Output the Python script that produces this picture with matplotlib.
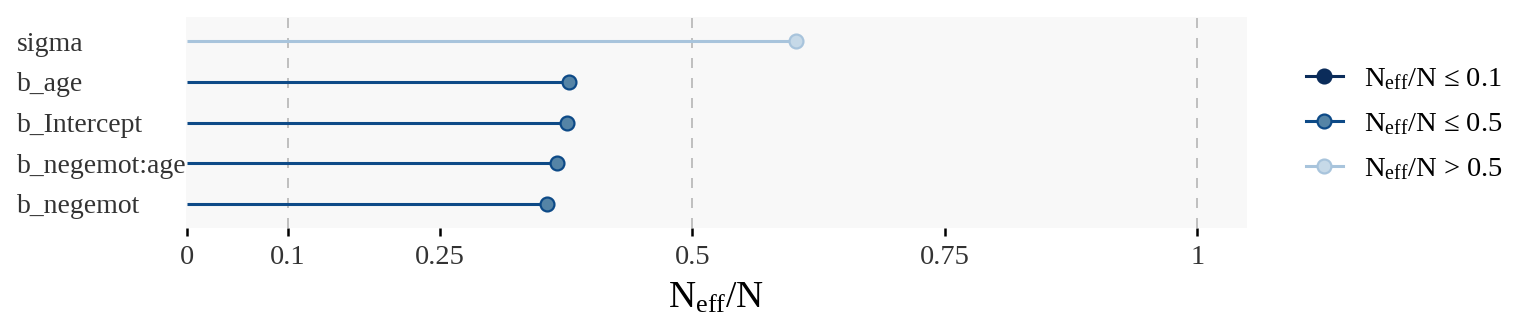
import matplotlib
matplotlib.use("Agg")
import matplotlib.pyplot as plt
from matplotlib.lines import Line2D

plt.rcParams['font.family'] = ['Liberation Serif', 'DejaVu Serif']
plt.rcParams['mathtext.fontset'] = 'custom'
plt.rcParams['mathtext.rm'] = 'Liberation Serif'
plt.rcParams['mathtext.it'] = 'Liberation Serif:italic'

# Data (bottom to top)
params = ["b_negemot", "b_negemot:age", "b_Intercept", "b_age", "sigma"]
ratios = [0.356, 0.366, 0.376, 0.378, 0.603]
xticks = [0, 0.1, 0.25, 0.5, 0.75, 1]
xticklabels = ["0", "0.1", "0.25", "0.5", "0.75", "1"]
vlines = [0.1, 0.5, 1]

# colors per rating
line_col = {"low": "#0b2c5a", "mid": "#0d4a87", "high": "#a8c4dc"}
fill_col = {"low": "#0b2c5a", "mid": "#5584a6", "high": "#c6d9e8"}
edge_col = {"low": "#0b2c5a", "mid": "#0d4a87", "high": "#a8c4dc"}

def rating(r):
    if r <= 0.1:
        return "low"
    if r <= 0.5:
        return "mid"
    return "high"

fig = plt.figure(figsize=(15.36, 3.36), dpi=100)
ax = fig.add_axes([186/1536, 1 - 228/336, (1247 - 186)/1536, (228 - 17)/336])
ax.set_facecolor("#f8f8f8")
for s in ax.spines.values():
    s.set_visible(False)

for v in vlines:
    ax.axvline(v, color="#b5b5b5", lw=1.2, ls=(0, (6, 6)), zorder=1)

ys = list(range(1, len(params) + 1))
for y, r in zip(ys, ratios):
    k = rating(r)
    ax.plot([0, r], [y, y], color=line_col[k], lw=2.2, solid_capstyle="butt", zorder=2)
    ax.plot([r], [y], marker="o", ms=10, mfc=fill_col[k], mec=edge_col[k], mew=1.6, zorder=3)

ax.set_xlim(-0.001, 1.049)
ax.set_ylim(0.41, 5.59)
ax.set_yticks(ys)
ax.set_yticklabels(params, fontsize=20, color="#333333", ha="left")
ax.tick_params(axis="y", length=0, pad=121.7)
ax.set_xticks(xticks)
ax.set_xticklabels(xticklabels, fontsize=20.5, color="#333333")
ax.tick_params(axis="x", length=6, width=1.8, color="black", pad=6, direction="out")
ax.set_xlabel(r"$\mathrm{N_{eff}/N}$", fontsize=27, labelpad=8)

handles = []
labels = []
for k, lab in [("low", r"$\mathrm{N_{eff}/N}$ ≤ 0.1"),
               ("mid", r"$\mathrm{N_{eff}/N}$ ≤ 0.5"),
               ("high", r"$\mathrm{N_{eff}/N}$ > 0.5")]:
    handles.append(Line2D([], [], color=line_col[k], lw=2.2, marker="o", ms=10,
                          mfc=fill_col[k], mec=edge_col[k], mew=1.6))
    labels.append(lab)
leg = fig.legend(handles, labels, loc="center left", bbox_to_anchor=(1297/1536, 1 - 124/336),
                 frameon=False, fontsize=20.5, handlelength=1.3, handletextpad=0.75,
                 labelspacing=0.68, borderaxespad=0, borderpad=0.3)

fig.savefig("out.png", dpi=100)
